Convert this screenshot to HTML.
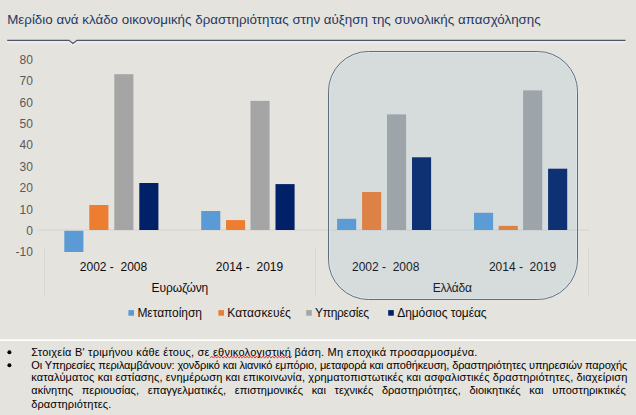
<!DOCTYPE html>
<html><head><meta charset="utf-8">
<style>
html,body{margin:0;padding:0;}
body{width:636px;height:415px;overflow:hidden;background:#e5e3de;position:relative;font-family:"Liberation Sans","Noto Sans CJK SC",sans-serif;}
svg{position:absolute;left:0;top:0;}
</style></head>
<body>
<svg width="636" height="415" viewBox="0 0 636 415" font-family="Liberation Sans, sans-serif">
  <!-- title -->
  <text x="7.2" y="23.7" font-size="13.33" fill="#1f3864" textLength="533.5" lengthAdjust="spacing">Μερίδιο ανά κλάδο οικονομικής δραστηριότητας στην αύξηση της συνολικής απασχόλησης</text>
  <path d="M7.2 42.2 H69.5 L73 45.2 L76.5 42.2 H625.5" fill="none" stroke="#ececf4" stroke-opacity="1" stroke-width="2"/>
  <path d="M7.2 40.4 H69 L73 43.5 L77 40.4 H625.5" fill="none" stroke="#50565f" stroke-width="1.2"/>

  <!-- axis labels -->
  <g font-size="12" fill="#595959" text-anchor="end" transform="translate(-0.7,0)">
    <text x="33.6" y="64.0">80</text>
    <text x="33.6" y="85.4">70</text>
    <text x="33.6" y="106.7">60</text>
    <text x="33.6" y="128.1">50</text>
    <text x="33.6" y="149.4">40</text>
    <text x="33.6" y="170.8">30</text>
    <text x="33.6" y="192.2">20</text>
    <text x="33.6" y="213.5">10</text>
    <text x="33.6" y="234.9">0</text>
    <text x="33.6" y="256.2">-10</text>
  </g>
  <!-- zero line + separators -->
  <line x1="38" y1="230" x2="589" y2="230" stroke="#d4d2cd" stroke-width="1"/>
  <g stroke="#d9d7d2" stroke-width="1">
    <line x1="44.5" y1="249" x2="44.5" y2="296"/>
    <line x1="315.5" y1="249" x2="315.5" y2="296"/>
    <line x1="588.5" y1="249" x2="588.5" y2="296"/>
  </g>

  <!-- bars: zero=230 -->
  <g>
    <rect x="64.3" y="230.8" width="19.1" height="21.2" fill="#5b9bd5"/>
    <rect x="89.3" y="205.0" width="19.1" height="25.0" fill="#ed7d31"/>
    <rect x="114.3" y="74.2" width="19.1" height="155.8" fill="#a5a5a5"/>
    <rect x="139.3" y="183.0" width="19.1" height="47.0" fill="#002167"/>

    <rect x="201.2" y="211.0" width="19.1" height="19.0" fill="#5b9bd5"/>
    <rect x="226.0" y="220.1" width="19.1" height="9.9" fill="#ed7d31"/>
    <rect x="250.5" y="100.9" width="19.1" height="129.1" fill="#a5a5a5"/>
    <rect x="275.5" y="184.1" width="19.1" height="45.9" fill="#002167"/>

    <rect x="337.1" y="218.8" width="19.1" height="11.2" fill="#5b9bd5"/>
    <rect x="362.1" y="192.0" width="19.1" height="38.0" fill="#ed7d31"/>
    <rect x="387.0" y="114.4" width="19.1" height="115.6" fill="#a5a5a5"/>
    <rect x="412.0" y="157.3" width="19.1" height="72.7" fill="#002167"/>

    <rect x="474.0" y="212.8" width="19.1" height="17.2" fill="#5b9bd5"/>
    <rect x="498.7" y="225.9" width="19.1" height="4.1" fill="#ed7d31"/>
    <rect x="523.1" y="90.4" width="19.1" height="139.6" fill="#a5a5a5"/>
    <rect x="548.1" y="168.7" width="19.1" height="61.3" fill="#002167"/>

  </g>

  <!-- category labels -->
  <g font-size="12" fill="#0d0d0d">
    <text x="79.8" y="270.9" xml:space="preserve">2002 -  2008</text>
    <text x="215.8" y="270.9" xml:space="preserve">2014 -  2019</text>
    <text x="352.0" y="270.9" xml:space="preserve">2002 -  2008</text>
    <text x="488.9" y="270.9" xml:space="preserve">2014 -  2019</text>
    <text x="151.6" y="291.8" textLength="56.7" lengthAdjust="spacing">Ευρωζώνη</text>
    <text x="432.8" y="291.8" textLength="39.1" lengthAdjust="spacing">Ελλάδα</text>
  </g>

  <!-- legend -->
  <g font-size="12" fill="#0d0d0d">
    <rect x="128.4" y="310.1" width="5.6" height="5.6" fill="#5b9bd5"/>
    <text x="137.4" y="316.7" textLength="64.6" lengthAdjust="spacing">Μεταποίηση</text>
    <rect x="218.4" y="310.1" width="5.6" height="5.6" fill="#ed7d31"/>
    <text x="227.2" y="316.7" textLength="63.7" lengthAdjust="spacing">Κατασκευές</text>
    <rect x="306.2" y="310.1" width="5.6" height="5.6" fill="#a5a5a5"/>
    <text x="314.9" y="316.7" textLength="54.2" lengthAdjust="spacing">Υπηρεσίες</text>
    <rect x="388.2" y="310.1" width="5.6" height="5.6" fill="#002167"/>
    <text x="397.2" y="316.7" textLength="89.4" lengthAdjust="spacing">Δημόσιος τομέας</text>
  </g>

  <!-- panel overlay -->
  <rect x="328.5" y="51.5" width="249" height="248" rx="40" ry="40" fill="rgb(110,165,205)" fill-opacity="0.12" stroke="#5f6d7d" stroke-width="1"/>
  <rect x="329.5" y="52.5" width="247" height="246" rx="39" ry="39" fill="none" stroke="#e4eef8" stroke-opacity="0.45" stroke-width="1"/>

  <!-- footnote separator -->
  <rect x="0" y="339.3" width="636" height="1.6" fill="#ffffff"/>
  <circle cx="9.4" cy="352.3" r="2" fill="#000"/>
  <circle cx="9.4" cy="365.2" r="2" fill="#000"/>

  <path d="M210.2 358.1 L211.8 356.1 L213.4 358.1 L215.0 356.1 L216.6 358.1 L218.2 356.1 L219.8 358.1 L221.4 356.1 L223.0 358.1 L224.6 356.1 L226.2 358.1 L227.8 356.1 L229.4 358.1 L231.0 356.1 L232.6 358.1 L234.2 356.1 L235.8 358.1 L237.4 356.1 L239.0 358.1 L240.6 356.1 L242.2 358.1 L243.8 356.1 L245.4 358.1 L247.0 356.1 L248.6 358.1 L250.2 356.1 L251.8 358.1 L253.4 356.1 L255.0 358.1 L256.6 356.1 L258.2 358.1 L259.8 356.1 L261.4 358.1 L263.0 356.1 L264.6 358.1 L266.2 356.1 L267.8 358.1 L269.4 356.1 L271.0 358.1 L272.6 356.1 L274.2 358.1 L275.8 356.1 L277.4 358.1 L279.0 356.1 L280.6 358.1 L282.2 356.1 L283.8 358.1 L285.4 356.1 L287.0 358.1 L288.6 356.1 L290.2 358.1 L291.8 356.1" fill="none" stroke="#e02828" stroke-width="0.9"/>
  <g font-size="11" fill="#000">
    <text x="31.3" y="355.7" textLength="446" lengthAdjust="spacing">Στοιχεία Β' τριμήνου κάθε έτους, σε εθνικολογιστική βάση. Μη εποχικά προσαρμοσμένα.</text>
    <text x="31.3" y="369.0" textLength="596" lengthAdjust="spacing">Οι Υπηρεσίες περιλαμβάνουν: χονδρικό και λιανικό εμπόριο, μεταφορά και αποθήκευση, δραστηριότητες υπηρεσιών παροχής</text>
    <text x="31.3" y="381.1" textLength="596" lengthAdjust="spacing">καταλύματος και εστίασης, ενημέρωση και επικοινωνία, χρηματοπιστωτικές και ασφαλιστικές δραστηριότητες, διαχείριση</text>
    <text x="31.3" y="394.4" style="word-spacing:5.65px">ακίνητης περιουσίας, επαγγελματικές, επιστημονικές και τεχνικές δραστηριότητες, διοικητικές και υποστηρικτικές</text>
    <text x="31.3" y="408.2" textLength="80" lengthAdjust="spacing">δραστηριότητες.</text>
  </g>
</svg>
</body></html>
